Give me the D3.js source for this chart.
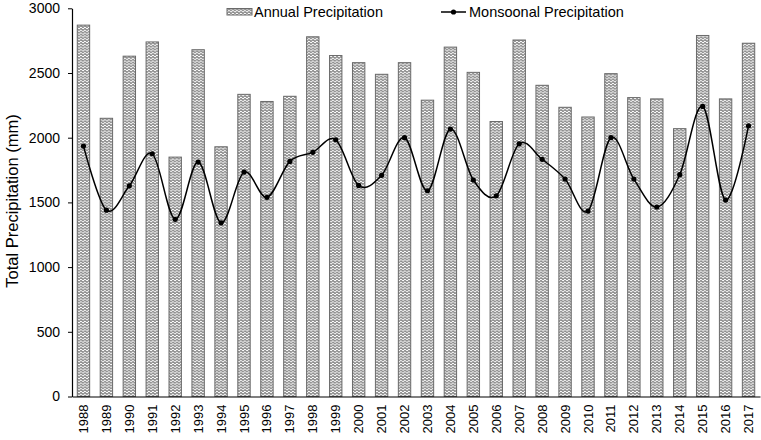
<!DOCTYPE html>
<html>
<head>
<meta charset="utf-8">
<script src="https://cdn.jsdelivr.net/npm/d3@7"></script>
<style>
  html, body { margin: 0; padding: 0; background: #fff; }
  svg { display: block; font-family: "Liberation Sans", Arial, sans-serif; }
</style>
</head>
<body>
<svg id="chart" width="761" height="440"></svg>
<script>
const years = ["1988","1989","1990","1991","1992","1993","1994","1995","1996","1997",
  "1998","1999","2000","2001","2002","2003","2004","2005","2006","2007",
  "2008","2009","2010","2011","2012","2013","2014","2015","2016","2017"];
const annual = [2870, 2150, 2630, 2740, 1850, 2680, 1930, 2335, 2280, 2320,
  2780, 2635, 2580, 2490, 2580, 2290, 2700, 2505, 2125, 2755,
  2405, 2235, 2160, 2495, 2310, 2300, 2070, 2790, 2300, 2730];
const monsoonal = [1935, 1440, 1628, 1876, 1369, 1812, 1342, 1734, 1539, 1817,
  1887, 1984, 1631, 1709, 2000, 1590, 2067, 1673, 1551, 1953,
  1833, 1680, 1433, 2000, 1680, 1464, 1714, 2242, 1518, 2092];
const yTicks = [0, 500, 1000, 1500, 2000, 2500, 3000];
const seriesNames = ["Annual Precipitation", "Monsoonal Precipitation"];
const yTitle = "Total Precipitation (mm)";

(function () {
const svg = d3.select("#chart");
const mLeft = 72, mRight = 760, mTop = 8.3, mBottom = 396.5;

const defs = svg.append("defs");
const pat = defs.append("pattern")
  .attr("id", "wave").attr("patternUnits", "userSpaceOnUse")
  .attr("width", 4).attr("height", 2.8);
pat.append("rect").attr("width", 4).attr("height", 2.8).attr("fill", "#fff");
pat.append("path").attr("d", "M0,1.4 L1,0.5 L2,1.4 L3,2.3 L4,1.4")
  .attr("fill", "none").attr("stroke", "#6e6e6e").attr("stroke-width", 1);

const x = d3.scaleBand().domain(years).range([mLeft, mRight]).paddingInner(0.46).paddingOuter(0.23);
const y = d3.scaleLinear().domain([0, 3000]).range([mBottom, mTop]);

// bars
svg.append("g").selectAll("rect").data(years).join("rect")
  .attr("x", d => x(d))
  .attr("width", x.bandwidth())
  .attr("y", (d, i) => y(annual[i]))
  .attr("height", (d, i) => y(0) - y(annual[i]))
  .attr("fill", "url(#wave)")
  .attr("stroke", "#6a6a6a").attr("stroke-width", 1);

// line
const cx = d => x(d) + x.bandwidth() / 2;
const line = d3.line()
  .x((d, i) => cx(years[i]))
  .y(d => y(d))
  .curve(d3.curveCatmullRom.alpha(0));
svg.append("path").datum(monsoonal)
  .attr("d", line).attr("fill", "none")
  .attr("stroke", "#000").attr("stroke-width", 1.5);
svg.append("g").selectAll("circle").data(monsoonal).join("circle")
  .attr("cx", (d, i) => cx(years[i]))
  .attr("cy", d => y(d))
  .attr("r", 2.6).attr("fill", "#000");

// y axis
const yAxis = d3.axisLeft(y).tickValues(yTicks).tickFormat(d3.format("d"))
  .tickSize(4).tickPadding(8).tickSizeOuter(0);
const gy = svg.append("g").attr("transform", `translate(${mLeft},0)`).call(yAxis);
gy.select(".domain").attr("stroke", "#000").attr("stroke-width", 1.2);
gy.selectAll(".tick line").attr("stroke", "#000");
gy.selectAll(".tick text").attr("font-size", 14).attr("fill", "#000")
  .attr("font-family", "Liberation Sans, Arial, sans-serif");

// x axis
const xAxis = d3.axisBottom(x).tickSize(0).tickSizeOuter(0).tickPadding(0);
const gx = svg.append("g").attr("transform", `translate(0,${mBottom})`).call(xAxis);
gx.select(".domain").attr("stroke", "#000").attr("stroke-width", 1.2);
gx.selectAll(".tick text")
  .attr("font-size", 13).attr("fill", "#000")
  .attr("font-family", "Liberation Sans, Arial, sans-serif")
  .attr("text-anchor", "end")
  .attr("transform", "rotate(-90)")
  .attr("x", -8).attr("y", 0).attr("dy", "0.35em");

// y title
svg.append("text")
  .attr("transform", `translate(18,201) rotate(-90)`)
  .attr("text-anchor", "middle")
  .attr("font-size", 16.5).attr("fill", "#000")
  .text(yTitle);

// legend
const lg = svg.append("g");
lg.append("rect").attr("x", 227).attr("y", 8.5).attr("width", 25).attr("height", 6.5)
  .attr("fill", "url(#wave)").attr("stroke", "#6a6a6a").attr("stroke-width", 1);
lg.append("text").attr("x", 254).attr("y", 17).attr("font-size", 14.5).attr("fill", "#000")
  .text(seriesNames[0]);
lg.append("line").attr("x1", 441).attr("x2", 466).attr("y1", 12).attr("y2", 12)
  .attr("stroke", "#000").attr("stroke-width", 1.5);
lg.append("circle").attr("cx", 453.5).attr("cy", 12).attr("r", 2.6).attr("fill", "#000");
lg.append("text").attr("x", 469).attr("y", 17).attr("font-size", 14.5).attr("fill", "#000")
  .text(seriesNames[1]);
})();
</script>
</body>
</html>
